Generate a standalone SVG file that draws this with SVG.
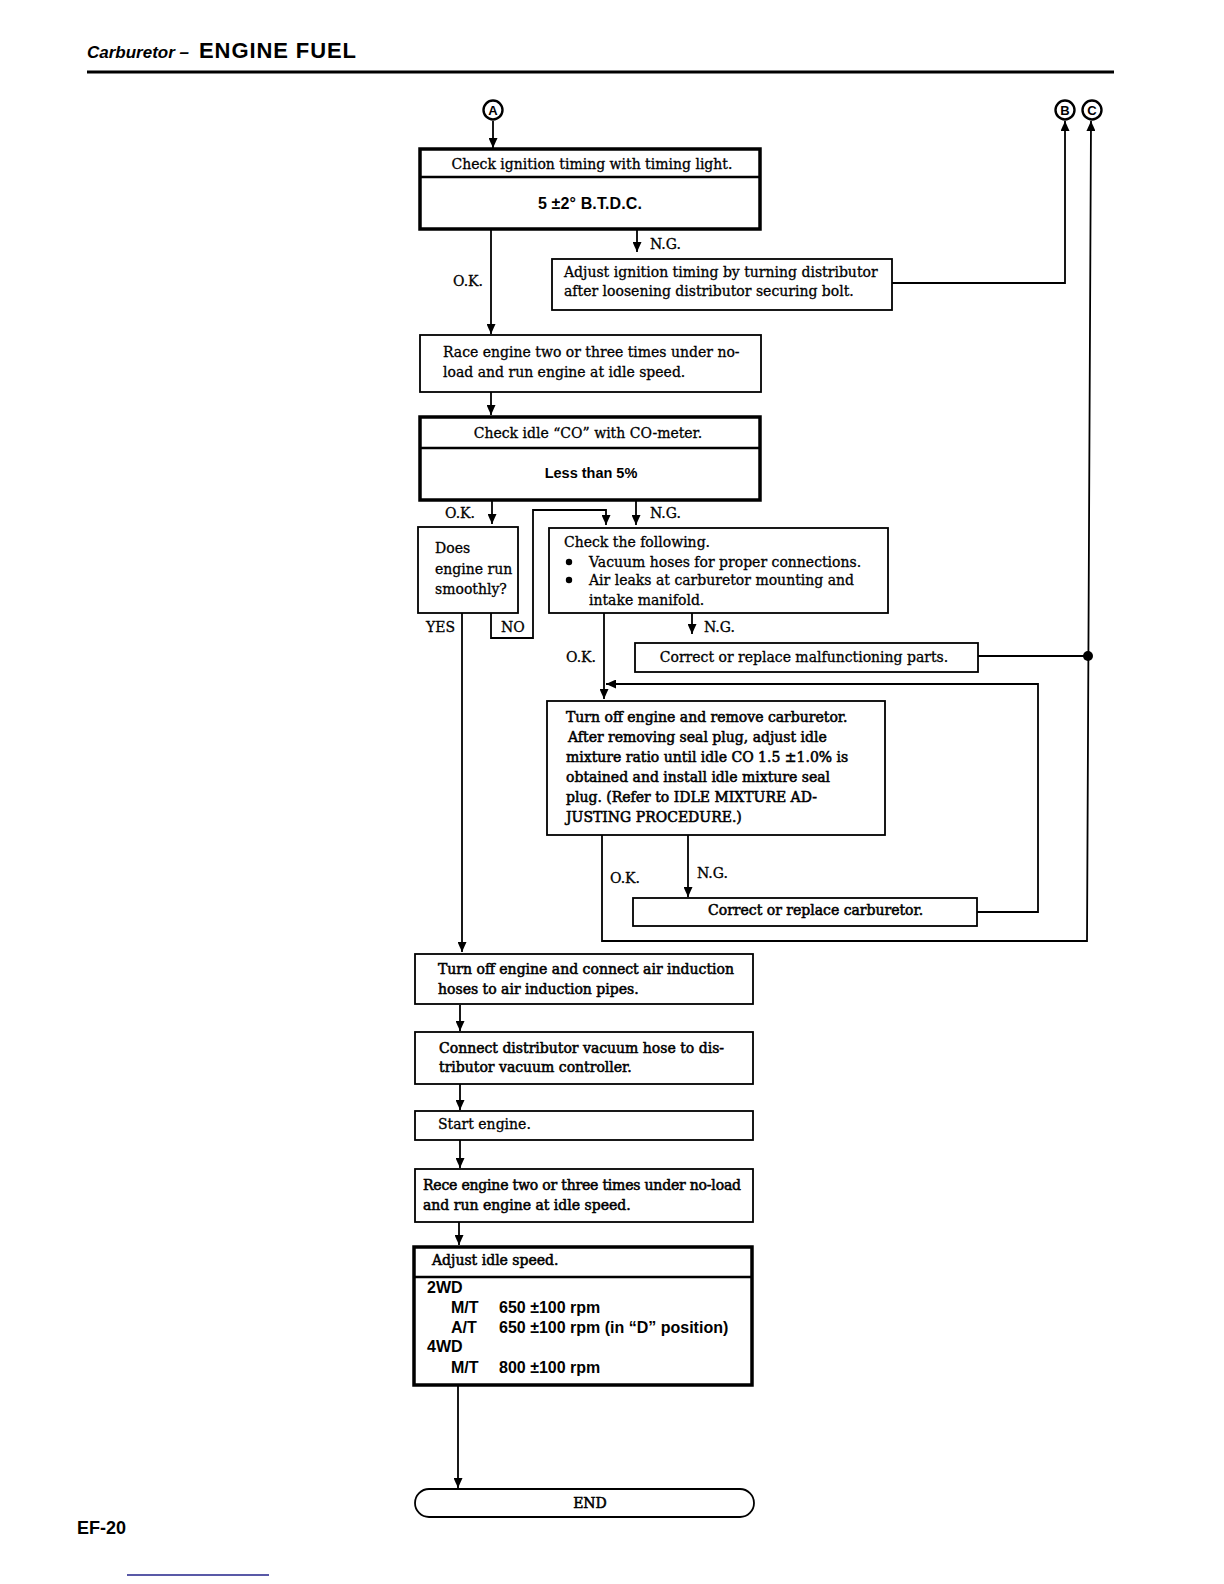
<svg xmlns="http://www.w3.org/2000/svg" width="1224" height="1584" viewBox="0 0 1224 1584">
<defs>
<marker id="ah" markerUnits="userSpaceOnUse" markerWidth="10" markerHeight="9" refX="10" refY="4.5" orient="auto">
<path d="M0,0 L10,4.5 L0,9 z" fill="#000"/>
</marker>
<style>
.box{fill:#fff;stroke:#000;stroke-width:1.8}
.thick{fill:#fff;stroke:#000;stroke-width:3.5}
.ln{fill:none;stroke:#000;stroke-width:1.8}
.t{font-family:"DejaVu Serif","Liberation Serif",serif;font-size:14px;fill:#000;stroke:#000;stroke-width:0.3}
.tk{font-family:"DejaVu Serif","Liberation Serif",serif;font-size:14px;fill:#000;stroke:#000;stroke-width:0.55}
.s{font-family:"Liberation Sans",Arial,sans-serif;font-weight:bold;font-size:16px;fill:#000}
.s14{font-family:"Liberation Sans",Arial,sans-serif;font-weight:bold;font-size:14.5px;fill:#000}
.lab{font-family:"DejaVu Serif","Liberation Serif",serif;font-size:14px;fill:#000;stroke:#000;stroke-width:0.3}
.circ{fill:#fff;stroke:#000;stroke-width:2.4}
.cl{font-family:"Liberation Sans",Arial,sans-serif;font-weight:bold;font-size:13px;fill:#000}
</style>
</defs>
<rect width="1224" height="1584" fill="#fff"/>

<g id="header">
<text x="87" y="58" style="font-family:'Liberation Sans',Arial,sans-serif;font-weight:bold;font-style:italic;font-size:17px">Carburetor –</text>
<text x="199" y="58" textLength="157" style="font-family:'Liberation Sans',Arial,sans-serif;font-weight:bold;font-size:22px">ENGINE FUEL</text>
<line x1="87" y1="72" x2="1114" y2="72" stroke="#000" stroke-width="3"/>
</g>

<g id="connectors">
<line class="ln" x1="493" y1="121" x2="493" y2="148" marker-end="url(#ah)"/>
<line class="ln" x1="491" y1="230" x2="491" y2="334" marker-end="url(#ah)"/>
<line class="ln" x1="637" y1="230" x2="637" y2="252" marker-end="url(#ah)"/>
<polyline class="ln" points="892,283 1065,283 1065,121" marker-end="url(#ah)"/>
<line class="ln" x1="491" y1="392" x2="491" y2="415" marker-end="url(#ah)"/>
<line class="ln" x1="492" y1="501" x2="492" y2="524" marker-end="url(#ah)"/>
<line class="ln" x1="636" y1="501" x2="636" y2="525" marker-end="url(#ah)"/>
<polyline class="ln" points="491,613 491,638 533,638 533,510 606,510 606,525" marker-end="url(#ah)"/>
<line class="ln" x1="462" y1="613" x2="462" y2="952" marker-end="url(#ah)"/>
<line class="ln" x1="692" y1="613" x2="692" y2="634" marker-end="url(#ah)"/>
<line class="ln" x1="604" y1="613" x2="604" y2="699" marker-end="url(#ah)"/>
<line class="ln" x1="978" y1="656" x2="1088" y2="656"/>
<circle cx="1088" cy="656" r="5" fill="#000"/>
<polyline class="ln" points="977,912 1038,912 1038,684 606,684" marker-end="url(#ah)"/>
<polyline class="ln" points="602,835 602,941 1087,941 1091,121" marker-end="url(#ah)"/>
<line class="ln" x1="688" y1="835" x2="688" y2="897" marker-end="url(#ah)"/>
<line class="ln" x1="460" y1="1005" x2="460" y2="1031" marker-end="url(#ah)"/>
<line class="ln" x1="460" y1="1084" x2="460" y2="1110" marker-end="url(#ah)"/>
<line class="ln" x1="460" y1="1140" x2="460" y2="1168" marker-end="url(#ah)"/>
<line class="ln" x1="459" y1="1222" x2="459" y2="1245" marker-end="url(#ah)"/>
<line class="ln" x1="458" y1="1386" x2="458" y2="1488" marker-end="url(#ah)"/>
</g>

<g id="labels">
<text class="lab" x="453" y="286">O.K.</text>
<text class="lab" x="650" y="249">N.G.</text>
<text class="lab" x="445" y="518">O.K.</text>
<text class="lab" x="650" y="518">N.G.</text>
<text class="lab" x="426" y="632">YES</text>
<text class="lab" x="501" y="632">NO</text>
<text class="lab" x="704" y="632">N.G.</text>
<text class="lab" x="566" y="662">O.K.</text>
<text class="lab" x="610" y="883">O.K.</text>
<text class="lab" x="697" y="878">N.G.</text>
</g>

<g id="nodeA">
<circle class="circ" cx="493" cy="110" r="9.5"/>
<text class="cl" x="493" y="114.7" text-anchor="middle">A</text>
</g>
<g id="nodeB">
<circle class="circ" cx="1065" cy="110" r="9.5"/>
<text class="cl" x="1065" y="114.7" text-anchor="middle">B</text>
</g>
<g id="nodeC">
<circle class="circ" cx="1092" cy="110" r="9.5"/>
<text class="cl" x="1092" y="114.7" text-anchor="middle">C</text>
</g>

<g id="checkTiming">
<rect class="thick" x="420" y="149" width="340" height="80"/>
<line x1="420" y1="177" x2="760" y2="177" stroke="#000" stroke-width="2.5"/>
<text class="t" x="592" y="169" text-anchor="middle">Check ignition timing with timing light.</text>
<text class="s" x="538" y="209" textLength="104">5 ±2° B.T.D.C.</text>
</g>

<g id="adjustTiming">
<rect class="box" x="552" y="259" width="340" height="51"/>
<text class="t" x="564" y="277">Adjust ignition timing by turning distributor</text>
<text class="t" x="564" y="296">after loosening distributor securing bolt.</text>
</g>

<g id="raceEngine">
<rect class="box" x="420" y="335" width="341" height="57"/>
<text class="t" x="443" y="357">Race engine two or three times under no-</text>
<text class="t" x="443" y="377">load and run engine at idle speed.</text>
</g>

<g id="checkCO">
<rect class="thick" x="420" y="417" width="340" height="83"/>
<line x1="420" y1="448" x2="760" y2="448" stroke="#000" stroke-width="2.5"/>
<text class="t" x="588" y="438" text-anchor="middle">Check idle “CO” with CO-meter.</text>
<text class="s14" x="591" y="478" text-anchor="middle">Less than 5%</text>
</g>

<g id="runSmooth">
<rect class="box" x="418" y="527" width="100" height="86"/>
<text class="t" x="435" y="553">Does</text>
<text class="t" x="435" y="574">engine run</text>
<text class="t" x="435" y="594">smoothly?</text>
</g>

<g id="checkFollowing">
<rect class="box" x="549" y="528" width="339" height="85"/>
<text class="t" x="564" y="547">Check the following.</text>
<circle cx="569" cy="562" r="3.2" fill="#000"/>
<text class="t" x="589" y="567">Vacuum hoses for proper connections.</text>
<circle cx="569" cy="580" r="3.2" fill="#000"/>
<text class="t" x="589" y="585">Air leaks at carburetor mounting and</text>
<text class="t" x="589" y="605">intake manifold.</text>
</g>

<g id="correctParts">
<rect class="box" x="635" y="643" width="343" height="29"/>
<text class="t" x="804" y="662" text-anchor="middle">Correct or replace malfunctioning parts.</text>
</g>

<g id="removeCarb">
<rect class="box" x="547" y="701" width="338" height="134"/>
<text class="tk" x="566" y="722">Turn off engine and remove carburetor.</text>
<text class="tk" x="568" y="742">After removing seal plug, adjust idle</text>
<text class="tk" x="566" y="762">mixture ratio until idle CO 1.5 ±1.0% is</text>
<text class="tk" x="566" y="782">obtained and install idle mixture seal</text>
<text class="tk" x="566" y="802">plug. (Refer to IDLE MIXTURE AD-</text>
<text class="tk" x="566" y="822">JUSTING PROCEDURE.)</text>
</g>

<g id="correctCarb">
<rect class="box" x="633" y="898" width="344" height="28"/>
<text class="tk" x="708" y="915">Correct or replace carburetor.</text>
</g>

<g id="connectAir">
<rect class="box" x="415" y="954" width="338" height="50"/>
<text class="tk" x="438" y="974">Turn off engine and connect air induction</text>
<text class="tk" x="438" y="994">hoses to air induction pipes.</text>
</g>

<g id="connectVacuum">
<rect class="box" x="415" y="1032" width="338" height="52"/>
<text class="tk" x="439" y="1053">Connect distributor vacuum hose to dis-</text>
<text class="tk" x="439" y="1072">tributor vacuum controller.</text>
</g>

<g id="startEngine">
<rect class="box" x="415" y="1111" width="338" height="29"/>
<text class="t" x="438" y="1129">Start engine.</text>
</g>

<g id="raceEngine2">
<rect class="box" x="415" y="1169" width="338" height="53"/>
<text class="tk" x="423" y="1190" textLength="318">Rece engine two or three times under no-load</text>
<text class="tk" x="423" y="1210">and run engine at idle speed.</text>
</g>

<g id="adjustIdle">
<rect class="thick" x="414" y="1247" width="338" height="138"/>
<line x1="414" y1="1277" x2="752" y2="1277" stroke="#000" stroke-width="2.5"/>
<text class="tk" x="432" y="1265">Adjust idle speed.</text>
<text class="s" x="427" y="1293">2WD</text>
<text class="s" x="451" y="1313">M/T</text>
<text class="s" x="499" y="1313">650 ±100 rpm</text>
<text class="s" x="451" y="1333">A/T</text>
<text class="s" x="499" y="1333">650 ±100 rpm (in “D” position)</text>
<text class="s" x="427" y="1352">4WD</text>
<text class="s" x="451" y="1373">M/T</text>
<text class="s" x="499" y="1373">800 ±100 rpm</text>
</g>

<g id="end">
<rect class="box" x="415" y="1489" width="339" height="28" rx="14" ry="14"/>
<text class="tk" x="590" y="1508" text-anchor="middle">END</text>
</g>

<g id="footer">
<text x="77" y="1534" style="font-family:'Liberation Sans',Arial,sans-serif;font-weight:bold;font-size:18px">EF-20</text>
<line x1="127" y1="1575" x2="269" y2="1575" stroke="#22228a" stroke-width="1.5"/>
</g>
</svg>
